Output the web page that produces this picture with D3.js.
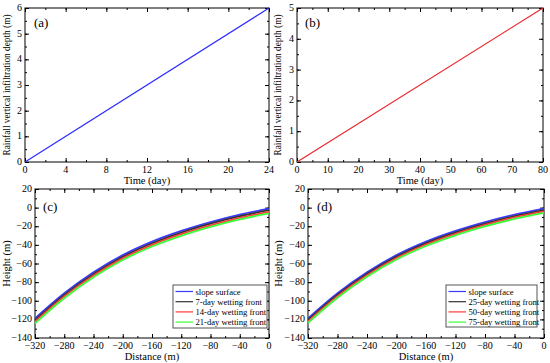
<!DOCTYPE html>
<html>
<head>
<meta charset="utf-8">
<script src="https://cdn.jsdelivr.net/npm/d3@7"></script>
<style>
  body { margin: 0; background: #fff; }
  svg text { font-family: "Liberation Serif", "Times New Roman", serif; fill: #000; }
</style>
</head>
<body>
<svg id="chart" width="550" height="363"></svg>
<script>
// panel (a) / (b): infiltration depth vs time
const timeA = [0, 24];
const depthA = [0, 6];
const timeB = [0, 80];
const depthB = [0, 5];

// panel (c) / (d): slope profile and wetting fronts
const distance = [-320, -280, -240, -200, -160, -120, -80, -40, 0];
const surfaceC = [-119, -92, -69.5, -51, -36.5, -25, -15.5, -7.5, -1];
const front7 = [-120.75, -93.75, -71.25, -52.75, -38.25, -26.75, -17.25, -9.25, -2.75];
const front14 = [-122.5, -95.5, -73, -54.5, -40, -28.5, -19, -11, -4.5];
const front21 = [-124.25, -97.25, -74.75, -56.25, -41.75, -30.25, -20.75, -12.75, -6.25];
const surfaceD = [-119, -92, -69.5, -51, -36.5, -25, -15.5, -7.5, -1];
const front25 = [-120.6, -93.6, -71.1, -52.6, -38.1, -26.6, -17.1, -9.1, -2.6];
const front50 = [-122.1, -95.1, -72.6, -54.1, -39.6, -28.1, -18.6, -10.6, -4.1];
const front75 = [-123.7, -96.7, -74.2, -55.7, -41.2, -29.7, -20.2, -12.2, -5.7];

const legendC = ["slope surface", "7-day wetting front", "14-day wetting front", "21-day wetting front"];
const legendD = ["slope surface", "25-day wetting front", "50-day wetting front", "75-day wetting front"];
const colors = ["#3b3bff", "#333333", "#ff3b3b", "#3bff3b"];

const svg = d3.select("#chart");
const fmt = d => d < 0 ? "\u2212" + Math.abs(d) : String(d);

function panel(o) {
  const g = svg.append("g");
  const x = d3.scaleLinear().domain(o.xDomain).range([o.left, o.right]);
  const y = d3.scaleLinear().domain(o.yDomain).range([o.bottom, o.top]);
  const xMinor = d3.range(o.xDomain[0], o.xDomain[1] + 1e-9, o.xStep / 2);
  const yMinor = d3.range(o.yDomain[0], o.yDomain[1] + 1e-9, o.yStep / 2);
  const xMajor = d3.range(o.xDomain[0], o.xDomain[1] + 1e-9, o.xStep);
  const yMajor = d3.range(o.yDomain[0], o.yDomain[1] + 1e-9, o.yStep);

  // inward ticks, all four sides
  const tick = (axis, ticks, size) => axis.tickValues(ticks).tickSize(size).tickFormat("");
  const addAxis = (ax, tr) => {
    const a = g.append("g").attr("transform", tr).call(ax);
    a.select(".domain").remove();
    a.selectAll("line").attr("stroke", "#000");
  };
  [[xMinor, 2], [xMajor, 4]].forEach(([t, s]) => {
    addAxis(tick(d3.axisTop(x), t, s), `translate(0,${o.bottom})`);
    addAxis(tick(d3.axisBottom(x), t, s), `translate(0,${o.top})`);
  });
  [[yMinor, 2], [yMajor, 4]].forEach(([t, s]) => {
    addAxis(tick(d3.axisRight(y), t, s), `translate(${o.left},0)`);
    addAxis(tick(d3.axisLeft(y), t, s), `translate(${o.right},0)`);
  });

  g.append("rect")
    .attr("x", o.left).attr("y", o.top)
    .attr("width", o.right - o.left).attr("height", o.bottom - o.top)
    .attr("fill", "none").attr("stroke", "#000").attr("stroke-width", 1);

  g.selectAll(".xl").data(xMajor).join("text")
    .attr("x", d => x(d)).attr("y", o.bottom + 11)
    .attr("text-anchor", "middle").attr("font-size", 10)
    .text(fmt);
  g.selectAll(".yl").data(yMajor).join("text")
    .attr("x", o.left - 3).attr("y", d => y(d) + 3)
    .attr("text-anchor", "end").attr("font-size", 10)
    .text(fmt);

  g.append("text")
    .attr("x", (o.left + o.right) / 2).attr("y", o.bottom + 21.5)
    .attr("text-anchor", "middle").attr("font-size", 10.5)
    .text(o.xLabel);
  g.append("text")
    .attr("transform", `translate(${o.yLabelX},${(o.top + o.bottom) / 2}) rotate(-90)`)
    .attr("text-anchor", "middle").attr("font-size", o.yLabelSize)
    .text(o.yLabel);

  g.append("text")
    .attr("x", o.tagX).attr("y", o.tagY)
    .attr("font-size", 13)
    .text(o.tag);

  const line = d3.line().x(d => x(d[0])).y(d => y(d[1])).curve(d3.curveMonotoneX);
  o.series.forEach((s, i) => {
    g.append("path")
      .datum(d3.zip(o.xs, s))
      .attr("d", line)
      .attr("fill", "none")
      .attr("stroke", o.colors[i])
      .attr("stroke-width", o.lineWidth);
  });

  if (o.legend) {
    const L = o.legendBox;
    const lg = g.append("g");
    lg.append("rect")
      .attr("x", L.x).attr("y", L.y).attr("width", L.w).attr("height", L.h)
      .attr("fill", "#fff").attr("stroke", "#555").attr("stroke-width", 1);
    o.legend.forEach((name, i) => {
      const yy = L.y + 6.5 + i * 10.2;
      lg.append("line")
        .attr("x1", L.x + 2.5).attr("x2", L.x + 20)
        .attr("y1", yy).attr("y2", yy)
        .attr("stroke", o.colors[i]).attr("stroke-width", 1.2);
      lg.append("text")
        .attr("x", L.x + 22.5).attr("y", yy + 3)
        .attr("font-size", 8.6)
        .text(name);
    });
  }
}

panel({
  left: 25, right: 269, top: 8, bottom: 162,
  xDomain: [0, 24], yDomain: [0, 6], xStep: 4, yStep: 1,
  xLabel: "Time (day)", yLabel: "Rainfall vertical infiltration depth (m)",
  yLabelX: 10, yLabelSize: 9.3,
  tag: "(a)", tagX: 34, tagY: 27,
  xs: timeA, series: [depthA], colors: ["#2a2aff"], lineWidth: 1.2
});

panel({
  left: 297, right: 543, top: 8, bottom: 162,
  xDomain: [0, 80], yDomain: [0, 5], xStep: 10, yStep: 1,
  xLabel: "Time (day)", yLabel: "Rainfall vertical infiltration depth (m)",
  yLabelX: 281, yLabelSize: 9.3,
  tag: "(b)", tagX: 305, tagY: 27,
  xs: timeB, series: [depthB], colors: ["#e8262a"], lineWidth: 1.2
});

panel({
  left: 35, right: 269, top: 189, bottom: 338,
  xDomain: [-320, 0], yDomain: [-140, 20], xStep: 40, yStep: 20,
  xLabel: "Distance (m)", yLabel: "Height (m)",
  yLabelX: 10, yLabelSize: 10.5,
  tag: "(c)", tagX: 43, tagY: 211,
  xs: distance, series: [surfaceC, front7, front14, front21], colors: colors, lineWidth: 1.8,
  legend: legendC, legendBox: { x: 173, y: 285, w: 94, h: 43 }
});

panel({
  left: 308, right: 544, top: 189, bottom: 338,
  xDomain: [-320, 0], yDomain: [-140, 20], xStep: 40, yStep: 20,
  xLabel: "Distance (m)", yLabel: "Height (m)",
  yLabelX: 282, yLabelSize: 10.5,
  tag: "(d)", tagX: 317, tagY: 211,
  xs: distance, series: [surfaceD, front25, front50, front75], colors: colors, lineWidth: 1.8,
  legend: legendD, legendBox: { x: 446, y: 285, w: 91, h: 42 }
});
</script>
</body>
</html>
